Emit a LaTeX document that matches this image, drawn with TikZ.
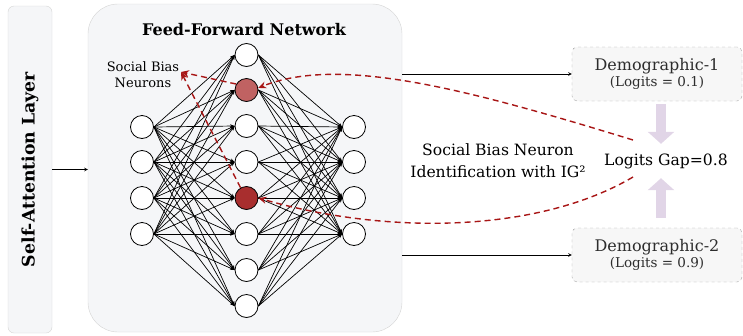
\documentclass[tikz,border=0pt]{standalone}
\usepackage{fontspec}
\setmainfont{DejaVu Serif}
\usepackage{tikz}
\usetikzlibrary{arrows, arrows.meta, positioning, calc}
\definecolor{biasred}{RGB}{168,22,22}
\definecolor{lightneuron}{RGB}{192,98,98}
\definecolor{darkneuron}{RGB}{168,46,46}
\definecolor{panelgray}{RGB}{245,246,248}
\definecolor{panelline}{RGB}{212,212,212}
\definecolor{gaplilac}{RGB}{225,213,231}
\definecolor{demotext}{RGB}{45,45,45}
\tikzstyle{neuron} = [draw, circle, minimum size=23pt, inner sep=0pt, line width=0.8pt]
\tikzstyle{conn} = [line width=0.7pt, -{Stealth[length=4.5pt,width=3.5pt]}]
\tikzstyle{arrow} = [semithick,->,>=stealth]
\tikzstyle{biasline} = [biasred, line width=1.4pt, dash pattern=on 6pt off 4pt, -{Stealth[length=8pt,width=7pt]}]
\tikzstyle{demo} = [draw=gray!70, dashed, rounded corners=5pt, fill=gray!6, minimum width=170pt, minimum height=54pt, align=center, text=demotext, font=\fontsize{16}{18}\selectfont]
\tikzstyle{gaparrow} = [gaplilac, line width=10pt, -{Triangle[length=12pt,width=26pt]}]

\begin{document}
\begin{tikzpicture}[x=1pt, y=-1pt]
    \useasboundingbox (0,0) rectangle (743,335);

    % Panels
    \node[draw=panelline, fill=panelgray, rounded corners=6pt, rotate=90, minimum width=327pt, minimum height=44pt, font=\bfseries\fontsize{17.3}{20}\selectfont] (SA) at (30,169.5) {Self-Attention Layer};
    \node[draw=panelline, fill=panelgray, rounded corners=30pt, minimum width=314pt, minimum height=328pt] (FFN) at (245,168) {};
    \node[font=\bfseries\fontsize{16}{19}\selectfont] (title) at (244,30) {Feed-Forward Network};
    \draw[arrow] (SA.south) -- (SA.south -| FFN.west);

    % Neurons
    \foreach \i/\y in {1/127,2/162,3/198,4/234}
        \node[neuron, fill=white] (L\i) at (142,\y) {};
    \foreach \i/\y/\c in {1/55/white,2/90/lightneuron,3/126/white,4/162/white,5/198/darkneuron,6/234/white,7/270/white,8/306/white}
        \node[neuron, fill=\c] (M\i) at (246.5,\y) {};
    \foreach \i/\y in {1/127,2/162,3/198,4/234}
        \node[neuron, fill=white] (R\i) at (354,\y) {};

    % Connections
    \foreach \a in {1,...,4}
        \foreach \b in {1,...,8} {
            \draw[conn] (L\a.east) -- (M\b.west);
            \draw[conn] (M\b.east) -- (R\a.west);
        }

    % Social bias neurons
    \node[align=center, font=\fontsize{13}{16}\selectfont] (SBN) at (143,75) {Social Bias\\Neurons};
    \coordinate (sbtip) at (181,72);
    \draw[biasline] (M2.150) -- (sbtip);
    \draw[biasline] (M5.120) -- (sbtip);

    % Outputs
    \node[demo] (D1) at (657,74) {Demographic-1\\[-2pt]{\fontsize{13.5}{15}\selectfont(Logits = 0.1)}};
    \node[demo] (D2) at (657,255) {Demographic-2\\[-2pt]{\fontsize{13.5}{15}\selectfont(Logits = 0.9)}};
    \draw[arrow] (FFN.east |- D1.west) -- (D1.west);
    \draw[arrow] (FFN.east |- D2.west) -- (D2.west);

    % Logits gap
    \node[minimum height=34pt, font=\fontsize{15.6}{18}\selectfont] (gap) at (666,161) {Logits Gap=0.8};
    \coordinate (gapx) at (661,0);
    \draw[gaparrow] ([yshift=-3pt]D1.south -| gapx) -- (gap.north -| gapx);
    \draw[gaparrow] ([yshift=10pt]D2.north -| gapx) -- (gap.south -| gapx);
    \node[align=center, font=\fontsize{15.6}{22}\selectfont] (IG) at (498,161) {Social Bias Neuron\\Identification with IG²};

    % Identification curves
    \coordinate (g1) at (633,140);
    \coordinate (g2) at (633,177);
    \draw[biasline] (g1) .. controls (470,90) and (340,55) .. (M2.10);
    \draw[biasline] (g2) .. controls (540,232) and (390,236) .. (M5.east);
\end{tikzpicture}
\end{document}
